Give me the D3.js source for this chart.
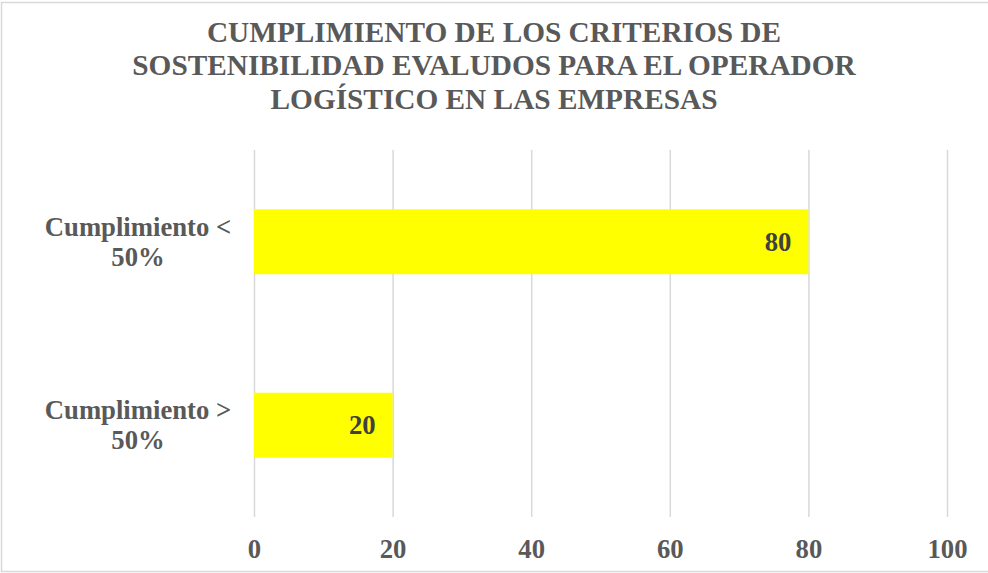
<!DOCTYPE html>
<html>
<head>
<meta charset="utf-8">
<script src="https://cdn.jsdelivr.net/npm/d3@7"></script>
<style>
    body { margin: 0; background: #fff; }
    svg { display: block; font-family: "Liberation Serif", "Times New Roman", serif; }
</style>
</head>
<body>
<svg></svg>
<script>
const titleLines = [
    "CUMPLIMIENTO DE LOS CRITERIOS DE",
    "SOSTENIBILIDAD EVALUDOS PARA EL OPERADOR",
    "LOGÍSTICO EN LAS EMPRESAS",
];
const categories = ["Cumplimiento < 50%", "Cumplimiento > 50%"];
const values = [80, 20];
const ticks = [0, 20, 40, 60, 80, 100];

const width = 988,
    height = 573;
const plotLeft = 254,
    plotRight = 947,
    plotTop = 150,
    plotBottom = 517;

const svg = d3.select("svg").attr("width", width).attr("height", height);

// chart border
svg.append("rect")
    .attr("x", 1.5)
    .attr("y", 2.5)
    .attr("width", width)
    .attr("height", height - 4)
    .attr("fill", "#fff")
    .attr("stroke", "#d9d9d9")
    .attr("stroke-width", 1.5);

const xScale = d3.scaleLinear().domain([0, 100]).range([plotLeft, plotRight]);
const yScale = d3
    .scaleBand()
    .domain(categories)
    .range([plotTop, plotBottom])
    .paddingInner(0.646)
    .paddingOuter(0.323);

// title
svg.append("g")
    .selectAll("text")
    .data(titleLines)
    .enter()
    .append("text")
    .attr("x", width / 2)
    .attr("y", (d, i) => 41.5 + i * 33.5)
    .attr("text-anchor", "middle")
    .attr("fill", "#595959")
    .attr("font-weight", "bold")
    .attr("font-size", "29.3px")
    .text((d) => d);

// gridlines + tick labels
const xAxis = d3.axisBottom(xScale).tickValues(ticks).tickSize(-(plotBottom - plotTop)).tickPadding(22);
const gx = svg.append("g").attr("transform", `translate(0, ${plotBottom})`).call(xAxis);
gx.select(".domain").remove();
gx.selectAll(".tick line").attr("stroke", "#d9d9d9").attr("stroke-width", 1.5);
gx.selectAll(".tick text")
    .attr("fill", "#595959")
    .attr("font-family", "Liberation Serif, Times New Roman, serif")
    .attr("font-weight", "bold")
    .attr("font-size", "26.7px");

// bars
svg.selectAll(".bar")
    .data(values)
    .enter()
    .append("rect")
    .attr("class", "bar")
    .attr("x", xScale(0))
    .attr("y", (d, i) => yScale(categories[i]))
    .attr("width", (d) => xScale(d) - xScale(0))
    .attr("height", yScale.bandwidth())
    .attr("fill", "#ffff00");

// value labels
svg.selectAll(".value")
    .data(values)
    .enter()
    .append("text")
    .attr("class", "value")
    .attr("x", (d) => xScale(d) - 17)
    .attr("y", (d, i) => yScale(categories[i]) + yScale.bandwidth() / 2 + 9)
    .attr("text-anchor", "end")
    .attr("fill", "#404040")
    .attr("font-weight", "bold")
    .attr("font-size", "26.7px")
    .text((d) => d);

// category labels, two lines each
const cat = svg.selectAll(".cat")
    .data(categories)
    .enter()
    .append("text")
    .attr("class", "cat")
    .attr("text-anchor", "middle")
    .attr("fill", "#595959")
    .attr("font-weight", "bold")
    .attr("font-size", "26.7px");

cat.each(function (d) {
    const cut = d.lastIndexOf(" ");
    const cy = yScale(d) + yScale.bandwidth() / 2;
    const t = d3.select(this);
    t.append("tspan").attr("x", 138).attr("y", cy - 6).text(d.slice(0, cut));
    t.append("tspan").attr("x", 138).attr("y", cy + 24).text(d.slice(cut + 1));
});
</script>
</body>
</html>
